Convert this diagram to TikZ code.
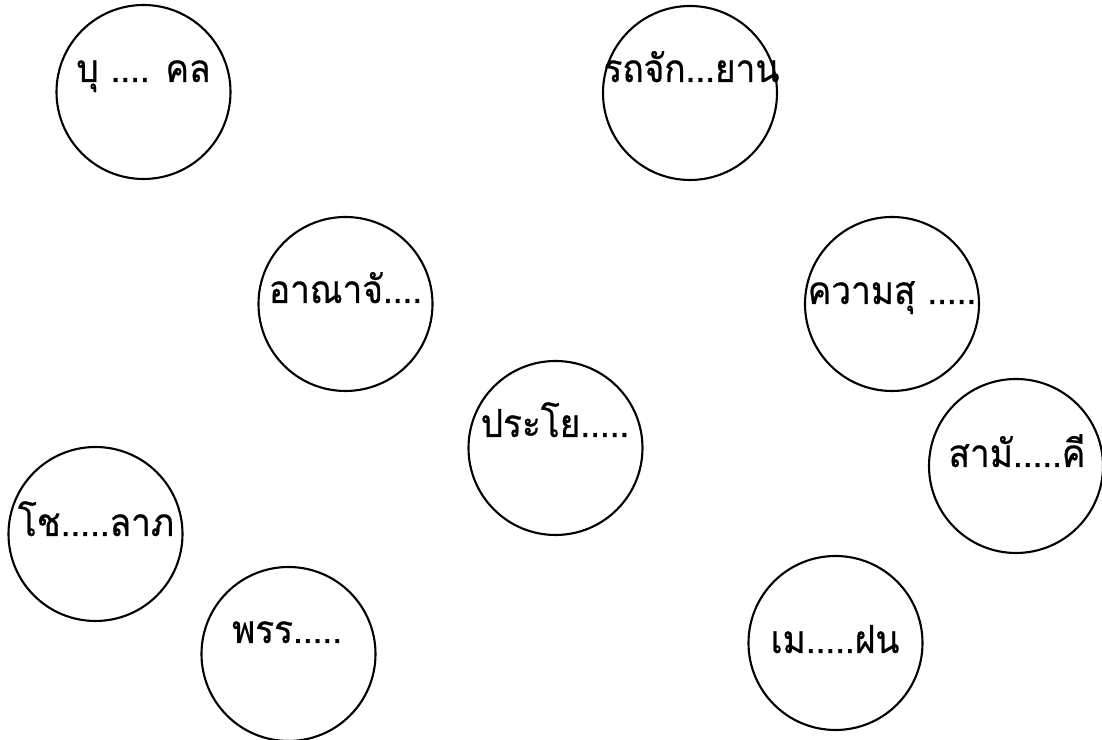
\documentclass[tikz,border=0pt]{standalone}
\usepackage{fontspec}
\newfontfamily\thaifont[Script=Thai,FakeBold=0.6,FakeStretch=0.91]{Loma}
\usetikzlibrary{positioning}
\tikzset{
  bubble/.style={circle, draw=black, line width=0.6pt, minimum size=1.74cm, inner sep=0pt},
  word/.style={font=\thaifont\fontsize{11}{13}\selectfont, anchor=base, inner sep=0pt},
}

\begin{document}
\begin{tikzpicture}
    \useasboundingbox (0,0) rectangle (11.02,-7.40);
    % top row
    \node[bubble] (bukkhon)  at (1.435,-0.92) {};
    \node[bubble] (rotchak)  at (6.90,-0.93)  {};
    % middle
    \node[bubble] (anachak)  at (3.455,-3.04) {};
    \node[bubble] (khwamsuk) at (8.92,-3.04)  {};
    \node[bubble] (prayok)   at (5.555,-4.48) {};
    \node[bubble] (samakkhi) at (10.16,-4.66) {};
    % bottom
    \node[bubble] (chok)     at (0.955,-5.34) {};
    \node[bubble] (phan)     at (2.885,-6.54) {};
    \node[bubble] (mek)      at (8.355,-6.43) {};

    % words
    \node[word] (bukkhon-t)  at (1.435,-0.82) {บุ .... คล};
    \node[word] (rotchak-t)  at (6.915,-0.82) {รถจัก...ยาน};
    \node[word] (anachak-t)  at (3.455,-3.03) {อาณาจั....};
    \node[word] (khwamsuk-t) at (8.92,-3.04)  {ความสุ .....};
    \node[word] (prayok-t)   at (5.55,-4.37)  {ประโย.....};
    \node[word] (samakkhi-t) at (10.17,-4.67) {สามั.....คี};
    \node[word] (chok-t)     at (0.96,-5.36)  {โช.....ลาภ};
    \node[word] (phan-t)     at (2.87,-6.43)  {พรร.....};
    \node[word] (mek-t)      at (8.35,-6.53)  {เม.....ฝน};
\end{tikzpicture}
\end{document}
